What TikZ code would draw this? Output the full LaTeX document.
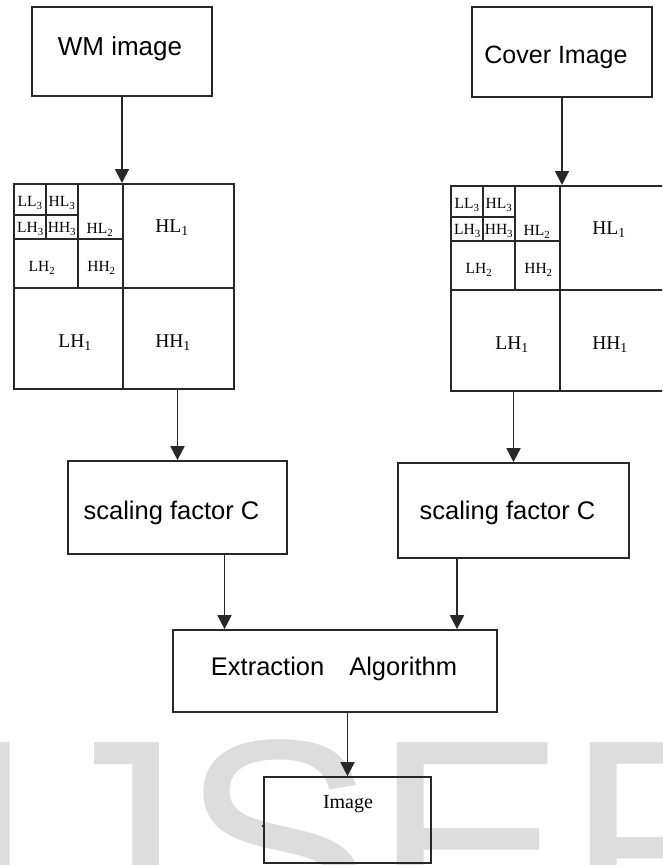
\documentclass[tikz,border=0pt]{standalone}
\usepackage{fontspec}
\setmainfont{Liberation Serif}
\newfontfamily\arialf{Liberation Sans}
\usetikzlibrary{arrows.meta}
\definecolor{inkline}{RGB}{40,40,40}
\definecolor{wmgray}{RGB}{221,221,221}
\newcommand\setfs[1]{\fontsize{#1}{#1}\selectfont}

\tikzset{
  box/.style={draw=inkline, line width=1.7pt, inner sep=0pt},
  gridline/.style={draw=inkline, line width=1.7pt},
  sanslbl/.style={font=\arialf\setfs{25.5pt}, inner sep=0pt, anchor=base},
  arr/.style={draw=inkline, line width=1.7pt, -{Triangle[width=14pt,length=14pt]}},
  cellA/.style={font=\setfs{19.5pt}, inner sep=0pt},
  cellB/.style={font=\setfs{15.5pt}, inner sep=0pt},
  gridframe/.style={box, anchor=north west, minimum width=220pt, minimum height=205pt},
  % three-level wavelet decomposition layout
  dwt/.pic={
    \node[gridframe] (-frame) at (0,0) {};
    \draw[gridline] (110,0) -- (110,205);
    \draw[gridline] (0,105) -- (220,105);
    \draw[gridline] (65,0) -- (65,105);
    \draw[gridline] (0,56) -- (110,56);
    \draw[gridline] (33,0) -- (33,56);
    \draw[gridline] (0,32) -- (65,32);
    \node[cellB] (-ll3) at (17,20) {LL\textsubscript{3}};
    \node[cellB] (-hl3) at (49,20) {HL\textsubscript{3}};
    \node[cellB] (-lh3) at (17.5,46) {LH\textsubscript{3}};
    \node[cellB] (-hh3) at (49,46) {HH\textsubscript{3}};
    \node[cellB] (-hl2) at (87,47) {HL\textsubscript{2}};
    \node[cellB] (-lh2) at (29,85) {LH\textsubscript{2}};
    \node[cellB] (-hh2) at (88.5,85) {HH\textsubscript{2}};
    \node[cellA] (-hl1) at (159,45) {HL\textsubscript{1}};
    \node[cellA] (-lh1) at (62,160) {LH\textsubscript{1}};
    \node[cellA] (-hh1) at (160,160) {HH\textsubscript{1}};
  }
}

\begin{document}
\begin{tikzpicture}[x=1pt,y=-1pt]
  \useasboundingbox (0,0) rectangle (662,865);
  \clip (0,0) rectangle (662,865);

  % background watermark lettering
  \node[anchor=base west, inner sep=0pt, text=wmgray,
        font=\arialf\setfs{289pt}] (wmark) at (-44,941) {IJSER};

  % source images
  \node[box, minimum width=180pt, minimum height=89pt] (wm) at (122,51.5) {};
  \node[sanslbl, font=\arialf\setfs{26pt}] (wm-t) at (120,55) {WM image};
  \node[box, minimum width=180pt, minimum height=90pt] (cover) at (562,52) {};
  \node[sanslbl, font=\arialf\setfs{25pt}] (cover-t) at (556,63) {Cover Image};

  % wavelet sub-band grids
  \pic (L) at (13,183) {dwt};
  \pic (R) at (450,185) {dwt};

  % scaling stages
  \node[box, minimum width=219pt, minimum height=93pt] (scL) at (177.5,507.5) {};
  \node[sanslbl] (scL-t) at (171.5,519) {scaling factor C};
  \node[box, minimum width=231pt, minimum height=95pt] (scR) at (513.5,510.5) {};
  \node[sanslbl] (scR-t) at (507.5,519) {scaling factor C};

  % extraction and result
  \node[box, minimum width=324pt, minimum height=82pt] (ex) at (335,671) {};
  \node[sanslbl] (ex-t) at (334,675) {Extraction\hspace{25pt}Algorithm};
  \node[box, minimum width=167pt, minimum height=86pt] (img) at (347.5,820) {};
  \node[font=\setfs{20pt}, inner sep=0pt, anchor=base] (img-t) at (348,808) {Image};
  \fill[inkline] (img.west |- 0,826) circle[radius=1.6pt];

  % connectors
  \draw[arr] (wm.south) -- (wm.south |- L-frame.north);
  \draw[arr] (cover.south) -- (cover.south |- R-frame.north);
  \draw[arr] (scL.north |- L-frame.south) -- (scL.north);
  \draw[arr] (scR.north |- R-frame.south) -- (scR.north);
  \coordinate (scLout) at ([xshift=47pt]scL.south);
  \coordinate (scRout) at ([xshift=-56.5pt]scR.south);
  \draw[arr] (scLout) -- (scLout |- ex.north);
  \draw[arr] (scRout) -- (scRout |- ex.north);
  \draw[arr] (img.north |- ex.south) -- (img.north);
\end{tikzpicture}
\end{document}
